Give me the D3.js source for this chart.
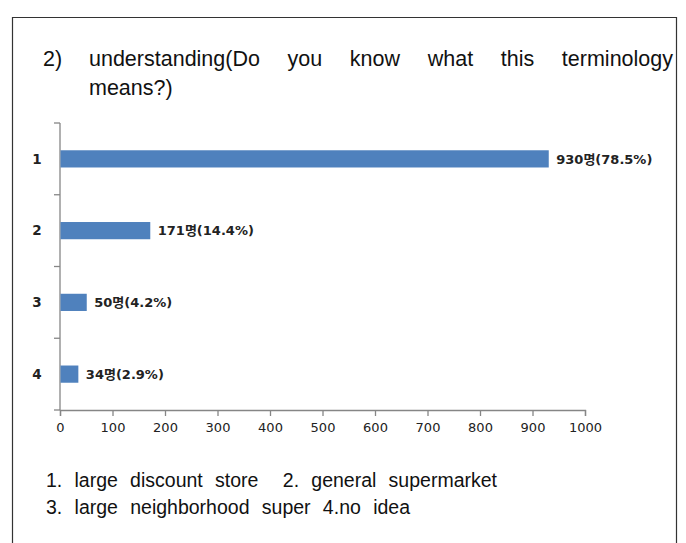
<!DOCTYPE html>
<html><head><meta charset="utf-8">
<script src="https://cdn.jsdelivr.net/npm/d3@7"></script>
<style>body{margin:0;background:#fff}svg{display:block}</style>
</head><body>
<script>
const categories = ["1", "2", "3", "4"];
const counts = [930, 171, 50, 34];
const percents = ["78.5%", "14.4%", "4.2%", "2.9%"];
const xTicks = [0, 100, 200, 300, 400, 500, 600, 700, 800, 900, 1000];
const titleNum = "2)";
const titleLine1 = "understanding(Do you know what this terminology";
const titleLine2 = "means?)";
const noteLines = ["1. large discount store  2. general supermarket", "3. large neighborhood super 4.no idea"];

const W = 686, H = 543;
const svg = d3.select("body").append("svg").attr("width", W).attr("height", H);

svg.append("path").attr("d", "M12.5,543 V17.5 H676.5 V543")
  .attr("fill", "none").attr("stroke", "#333").attr("stroke-width", 1.2);

const titleFont = "'Liberation Sans', Arial, sans-serif";
function justify(sel, x0, x1) {
  const n = (sel.text().match(/ /g) || []).length;
  const w = sel.node().getComputedTextLength();
  if (n > 0) sel.attr("word-spacing", Math.max(0, (x1 - x0 - w) / n));
}
svg.append("text").attr("x", 43).attr("y", 66).text(titleNum)
  .attr("font-family", titleFont).attr("font-size", 21.5).attr("fill", "#111");
const t1 = svg.append("text").attr("x", 89).attr("y", 66).text(titleLine1)
  .attr("font-family", titleFont).attr("font-size", 21.5).attr("fill", "#111");
justify(t1, 89, 673);
svg.append("text").attr("x", 89).attr("y", 95).text(titleLine2)
  .attr("font-family", titleFont).attr("font-size", 21.5).attr("fill", "#111");

const x = d3.scaleLinear().domain([0, 1000]).range([60, 585]);
const band = d3.scaleBand().domain(categories).range([123, 410]);
const y = d3.scaleBand().domain(categories).range([123, 410]).paddingInner(0.76).paddingOuter(0.38);

const axisColor = "#868686";
const g = svg.append("g");
g.append("line").attr("x1", x(0)).attr("x2", x(0)).attr("y1", 123).attr("y2", 410)
  .attr("stroke", axisColor).attr("stroke-width", 1.3);
const bounds = categories.map(c => band(c)).concat([410]);
g.selectAll(".yt").data(bounds).join("line")
  .attr("x1", x(0) - 6).attr("x2", x(0)).attr("y1", d => d).attr("y2", d => d)
  .attr("stroke", axisColor).attr("stroke-width", 1.3);

const xa = svg.append("g").attr("transform", "translate(0,410)")
  .call(d3.axisBottom(x).tickValues(xTicks).tickSize(6).tickPadding(7).tickFormat(d3.format("d")));
xa.select(".domain").attr("stroke", axisColor).attr("stroke-width", 1.3);
xa.selectAll(".tick line").attr("stroke", axisColor).attr("stroke-width", 1.3);
xa.selectAll(".tick text").attr("font-family", "'DejaVu Sans', Verdana, sans-serif")
  .attr("font-size", 13).attr("fill", "#222");

svg.selectAll(".cl").data(categories).join("text")
  .attr("x", 37).attr("y", d => band(d) + band.bandwidth() / 2).attr("dy", "0.36em")
  .attr("text-anchor", "middle").attr("font-family", "'DejaVu Sans', Verdana, sans-serif")
  .attr("font-weight", "bold").attr("font-size", 13.5).attr("fill", "#222").text(d => d);

svg.selectAll(".bar").data(categories).join("rect")
  .attr("x", x(0) + 0.5).attr("y", d => y(d))
  .attr("width", (d, i) => x(counts[i]) - x(0)).attr("height", y.bandwidth())
  .attr("fill", "#4F81BD");

svg.selectAll(".vl").data(categories).join("text")
  .attr("x", (d, i) => x(counts[i]) + 8).attr("y", d => y(d) + y.bandwidth() / 2).attr("dy", "0.36em")
  .attr("font-family", "'DejaVu Sans', Verdana, 'Noto Sans CJK KR', sans-serif")
  .attr("font-weight", "bold").attr("font-size", 13).attr("fill", "#222")
  .text((d, i) => counts[i] + "명(" + percents[i] + ")");

const ends = [497, 410];
noteLines.forEach((s, i) => {
  const t = svg.append("text").attr("x", 46).attr("y", 487 + i * 27).text(s)
    .attr("font-family", titleFont).attr("font-size", 19.5).attr("fill", "#111")
    .attr("xml:space", "preserve").style("white-space", "pre");
  justify(t, 46, ends[i]);
});
</script>
</body></html>
